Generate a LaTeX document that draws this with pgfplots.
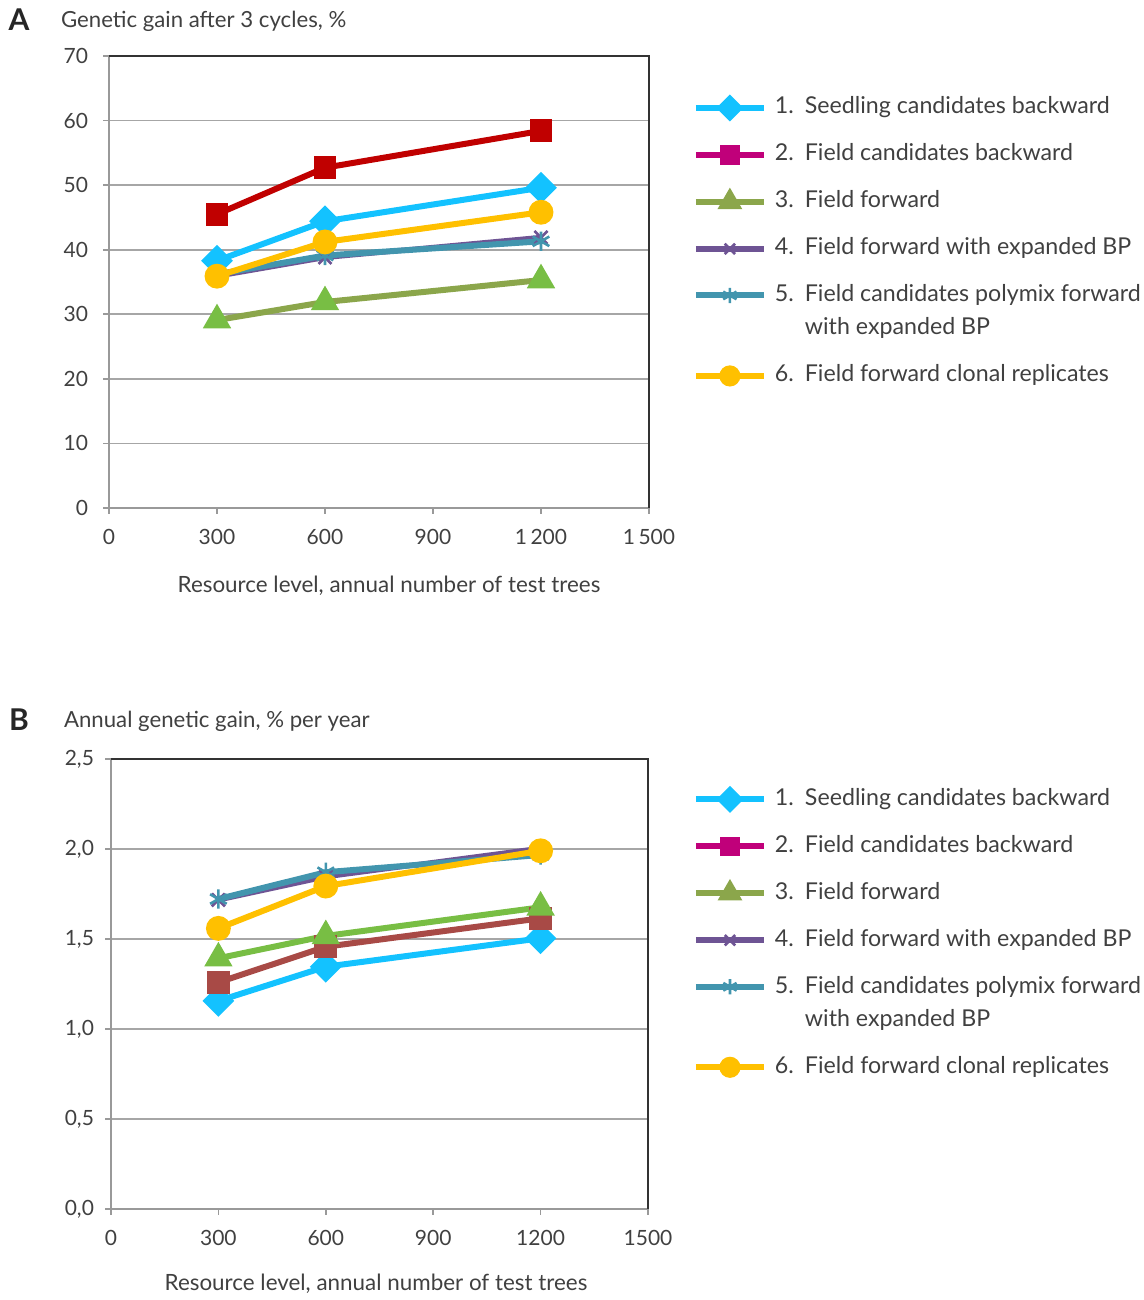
\documentclass[border=0pt]{standalone}
\usepackage{pgfplots}
\pgfplotsset{compat=1.18}
\usepackage{fontspec}
\setmainfont{Lato}
\definecolor{txt}{HTML}{404040}
\definecolor{cCyan}{RGB}{19,194,255}
\definecolor{cRed}{HTML}{C00000}
\definecolor{cMag}{RGB}{192,0,122}
\definecolor{cOlive}{RGB}{139,166,75}
\definecolor{cGreen}{RGB}{120,190,68}
\definecolor{cPurple}{RGB}{110,84,148}
\definecolor{cTeal}{RGB}{66,149,174}
\definecolor{cYellow}{HTML}{FFC000}
\definecolor{cBrown}{RGB}{168,74,70}
\definecolor{gridc}{HTML}{A6A6A6}
\definecolor{axc}{HTML}{999999}
\newcommand\lent[2]{\makebox[15pt][l]{#1}#2}
\newcommand\lentfive{\begin{tabular}[t]{@{}l@{}}\makebox[15pt][l]{5.}Field candidates polymix forward\\\hspace{15pt}with expanded BP\end{tabular}}
\pgfplotsset{
  base/.style={
    scale only axis,
    axis lines=left,
    axis line style={draw=axc, line width=0.9pt, -},
    tick style={draw=axc, line width=0.8pt},
    tick align=outside,
    major tick length=3pt,
    xmin=0, xmax=1500,
    xtick={0,300,600,900,1200,1500},
    ymajorgrids,
    major grid style={draw=gridc, line width=0.9pt},
    ticklabel style={font=\fontsize{10.5}{12}\selectfont, text=txt},
    /pgf/number format/assume math mode=true,
    every axis plot/.append style={line width=3pt},
    clip=false,
    after end axis/.code={\draw[black!80, line width=1.2pt] (rel axis cs:0,1) -- (rel axis cs:1,1) -- (rel axis cs:1,0);},
    legend cell align=left,
    legend style={draw=none, fill=none, inner sep=0pt, row sep=11.5pt,
      column sep=4pt, anchor=north west,
      nodes={inner sep=0pt, text height=9pt, text depth=3pt, text=txt, font=\fontsize{11.6}{16.5}\selectfont}},
    legend image code/.code={\draw[mark repeat=2,mark phase=2,line width=3pt,#1,every mark/.append style={scale=0.8}] plot coordinates {(0pt,0pt) (17pt,0pt) (34pt,0pt)};},
  },
  l1/.style={color=cCyan, mark=square*, mark size=4.1pt, mark options={solid, rotate=45}},
  l2/.style={color=cMag, mark=square*, mark size=4.2pt, mark options={solid}},
  l3/.style={color=cOlive, mark=triangle*, mark size=5.2pt, mark options={solid}},
  l4/.style={color=cPurple, mark=x, mark size=4.6pt, mark options={solid, line width=1.3pt}},
  l5/.style={color=cTeal, mark=asterisk, mark size=4.8pt, mark options={solid, line width=1.3pt}},
  l6/.style={color=cYellow, mark=*, mark size=4.7pt, mark options={solid}},
}
\begin{document}
\begin{tikzpicture}
\path[use as bounding box] (0,0) rectangle (572pt,650pt);
% ---------------- Panel A
\node[font=\fontsize{15}{17}\selectfont\bfseries, text=black!85] at (9.5pt,640pt) {A};
\node[anchor=west, font=\fontsize{11.1}{13}\selectfont, text=txt] at (27pt,639.5pt) {Genetic gain after 3 cycles, \%};
\node[font=\fontsize{11.2}{13}\selectfont, text=txt] at (194.5pt,357pt) {Resource level, annual number of test trees};
\begin{axis}[base, at={(54.5pt,396pt)}, anchor=south west, width=270pt, height=226pt,
  ymin=0, ymax=70, ytick={0,10,...,70},
  xticklabels={0,300,600,900,1\,200,1\,500},
  xticklabel style={yshift=-4pt},
  yticklabel style={xshift=-4pt},
  legend style={at={(1.0805,0.9125)}}]
\addlegendimage{l1}\addlegendentry{\lent{1.}{Seedling candidates backward}}
\addlegendimage{l2}\addlegendentry{\lent{2.}{Field candidates backward}}
\addlegendimage{l3}\addlegendentry{\lent{3.}{Field forward}}
\addlegendimage{l4}\addlegendentry{\lent{4.}{Field forward with expanded BP}}
\addlegendimage{l5, yshift=8.5pt}\addlegendentry[text depth=19.5pt]{\lentfive}
\addlegendimage{l6}\addlegendentry{\lent{6.}{Field forward clonal replicates}}
\addplot[forget plot, l1] coordinates {(300,38.3) (600,44.4) (1200,49.6)};
\addplot[forget plot, l2, color=cRed] coordinates {(300,45.5) (600,52.7) (1200,58.4)};
\addplot[forget plot, l3, mark options={solid, fill=cGreen, draw=cGreen}] coordinates {(300,29.1) (600,31.9) (1200,35.3)};
\addplot[forget plot, l4, line width=2.6pt] coordinates {(300,35.9) (600,38.8) (1200,41.9)};
\addplot[forget plot, l5] coordinates {(300,36.2) (600,39.1) (1200,41.3)};
\addplot[forget plot, l6] coordinates {(300,35.9) (600,41.2) (1200,45.8)};
\end{axis}
% ---------------- Panel B
\node[font=\fontsize{15}{17}\selectfont\bfseries, text=black!85] at (9.5pt,290pt) {B};
\node[anchor=west, font=\fontsize{11.1}{13}\selectfont, text=txt] at (28.5pt,289.5pt) {Annual genetic gain, \% per year};
\node[font=\fontsize{11.2}{13}\selectfont, text=txt] at (188pt,8pt) {Resource level, annual number of test trees};
\begin{axis}[base, at={(55.5pt,45.5pt)}, anchor=south west, width=268.5pt, height=225pt,
  ymin=0, ymax=2.5, ytick={0,0.5,...,2.5},
  xticklabels={0,300,600,900,1200,1500},
  xticklabel style={yshift=-4pt},
  yticklabel style={xshift=-2pt, /pgf/number format/.cd, use comma, fixed, fixed zerofill, precision=1},
  legend style={at={(1.083,0.938)}}]
\addlegendimage{l1}\addlegendentry{\lent{1.}{Seedling candidates backward}}
\addlegendimage{l2}\addlegendentry{\lent{2.}{Field candidates backward}}
\addlegendimage{l3}\addlegendentry{\lent{3.}{Field forward}}
\addlegendimage{l4}\addlegendentry{\lent{4.}{Field forward with expanded BP}}
\addlegendimage{l5, yshift=8.5pt}\addlegendentry[text depth=19.5pt]{\lentfive}
\addlegendimage{l6}\addlegendentry{\lent{6.}{Field forward clonal replicates}}
\addplot[forget plot, l1] coordinates {(300,1.156) (600,1.346) (1200,1.504)};
\addplot[forget plot, l2, color=cBrown] coordinates {(300,1.259) (600,1.457) (1200,1.615)};
\addplot[forget plot, l3, color=cGreen] coordinates {(300,1.393) (600,1.517) (1200,1.676)};
\addplot[forget plot, l4, line width=2.6pt] coordinates {(300,1.717) (600,1.846) (1200,2.004)};
\addplot[forget plot, l5] coordinates {(300,1.722) (600,1.871) (1200,1.967)};
\addplot[forget plot, l6] coordinates {(300,1.559) (600,1.794) (1200,1.99)};
\end{axis}
\end{tikzpicture}
\end{document}
